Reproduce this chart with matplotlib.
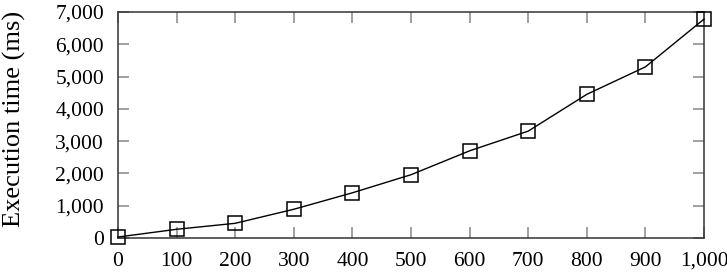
import matplotlib
matplotlib.use("Agg")
import matplotlib.pyplot as plt
from matplotlib.ticker import FuncFormatter

x_values = [0, 100, 200, 300, 400, 500, 600, 700, 800, 900, 1000]
exec_time_ms = [30, 270, 455, 890, 1400, 1960, 2700, 3310, 4450, 5300, 6780]
y_label = "Execution time (ms)"

plt.rcParams['font.family'] = ['Liberation Serif', 'DejaVu Serif']
fig = plt.figure(figsize=(7.27, 2.78), dpi=100)
ax = fig.add_axes([118/727, 40/278, (704-118)/727, (238-12)/278])
ax.plot(x_values, exec_time_ms, color='black', linewidth=1.0, marker='s',
        markersize=9.5, markerfacecolor='none', markeredgecolor='black',
        markeredgewidth=1.1, clip_on=False, zorder=3)
ax.set_xlim(0, 1000)
ax.set_ylim(0, 7000)
ax.set_xticks(x_values)
ax.set_yticks(range(0, 7001, 1000))
fmt = FuncFormatter(lambda v, p: f"{int(v):,}")
ax.xaxis.set_major_formatter(fmt)
ax.yaxis.set_major_formatter(fmt)
ax.tick_params(direction='in', top=True, right=True, length=8, width=1.3,
               color='#999999', labelsize=15.5)
ax.tick_params(axis='y', pad=10)
ax.tick_params(axis='x', pad=10)
for s in ax.spines.values():
    s.set_linewidth(1.1)
    s.set_color('#333333')
ax.set_ylabel(y_label, fontsize=19)
ax.yaxis.set_label_coords(-92/586, 0.525)
fig.savefig("out.png", dpi=100)
